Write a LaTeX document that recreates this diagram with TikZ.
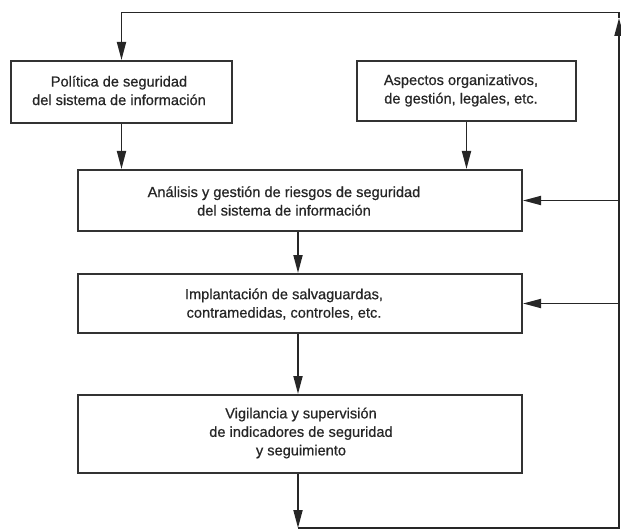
\documentclass[tikz,border=0pt]{standalone}
\usepackage{fontspec}
\setmainfont[FakeBold=0.6]{Liberation Sans}
\usetikzlibrary{arrows.meta}
\begin{document}
\begin{tikzpicture}[x=1pt,y=-1pt,
  box/.style={draw=black!80, line width=2pt, inner sep=0pt, fill=white},
  txt/.style={align=center, inner sep=0pt, text=black!85,
    font=\fontsize{14.6}{18.5}\selectfont},
  link/.style={draw=black!85, line width=1.8pt},
  arr/.style={link, -{Triangle[length=18pt,width=9pt]}}
]
\useasboundingbox (0,0) rectangle (621,532);

% boxes
\node[box, minimum width=221pt, minimum height=62pt] (B1) at (121.5,92) {};
\node[box, minimum width=219pt, minimum height=60pt] (B2) at (466.5,91) {};
\node[box, minimum width=444pt, minimum height=61pt] (B3) at (300,200.5) {};
\node[box, minimum width=444pt, minimum height=59pt] (B4) at (300,303.5) {};
\node[box, minimum width=444pt, minimum height=78pt] (B5) at (300,434) {};

% box texts
\node[txt] (T1) at (119,90.5) {Política de seguridad\\del sistema de información};
\node[txt] (T2) at (461,90.5) {Aspectos organizativos,\\de gestión, legales, etc.};
\node[txt] (T3) at (284,201) {Análisis y gestión de riesgos de seguridad\\del sistema de información};
\node[txt] (T4) at (284,304) {Implantación de salvaguardas,\\contramedidas, controles, etc.};
\node[txt] (T5) at (301,433) {Vigilancia y supervisión\\de indicadores de seguridad\\y seguimiento};

% feedback loop coordinates
\coordinate (bot) at (298,528);
\coordinate (br) at (619,528);
\coordinate (up) at (619,18);
\coordinate (tr) at (619,12.5);
\coordinate (tl) at (121.5,12.5);
\coordinate (r3) at (619,200.5);
\coordinate (r4) at (619,303.5);

% main flow
\draw[arr] (B1.south) -- (B1.south |- B3.north);
\draw[arr] (B2.south) -- (B2.south |- B3.north);
\draw[arr] ([xshift=-2pt]B3.south) -- ([xshift=-2pt]B4.north);
\draw[arr] ([xshift=-2pt]B4.south) -- ([xshift=-2pt]B5.north);
\draw[arr] ([xshift=-2pt]B5.south) -- (bot);

% return path
\draw[arr] (bot) -- (br) -- (up);
\draw[arr] (up) -- (tr) -- (tl) -- (B1.north);
\draw[arr] (r3) -- (B3.east);
\draw[arr] (r4) -- (B4.east);
\end{tikzpicture}
\end{document}
